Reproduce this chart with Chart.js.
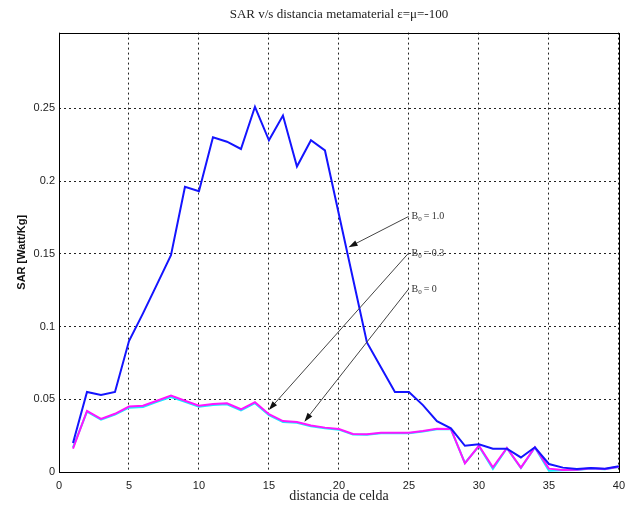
<!DOCTYPE html>
<html>
<head>
<meta charset="utf-8">
<script src="https://cdn.jsdelivr.net/npm/chart.js@4.4.0/dist/chart.umd.min.js"></script>
<style>
  html, body { margin: 0; padding: 0; background: #fff; }
</style>
</head>
<body>
<canvas id="sarChart" width="632" height="508"></canvas>
<script>
// Celdas (eje x)
const cells = [1, 2, 3, 4, 5, 6, 7, 8, 9, 10, 11, 12, 13, 14, 15, 16, 17, 18, 19, 20,
               21, 22, 23, 24, 25, 26, 27, 28, 29, 30, 31, 32, 33, 34, 35, 36, 37, 38, 39, 40];

// SAR para B0 = 1.0 (azul)
const sarB10 = [0.020, 0.055, 0.053, 0.055, 0.090, 0.109, 0.129, 0.149, 0.196, 0.193,
                0.230, 0.227, 0.222, 0.251, 0.228, 0.245, 0.210, 0.228, 0.221, 0.177,
                0.133, 0.089, 0.072, 0.055, 0.055, 0.046, 0.035, 0.030, 0.018, 0.019,
                0.016, 0.016, 0.010, 0.017, 0.0055, 0.003, 0.002, 0.0028, 0.0022, 0.004];

// SAR para B0 = 0.3 (cian)
const sarB03 = [0.017, 0.0415, 0.036, 0.0395, 0.0442, 0.0447, 0.0482, 0.0515, 0.0482, 0.0448,
                0.0461, 0.0465, 0.0424, 0.0473, 0.039, 0.0344, 0.0338, 0.0314, 0.030, 0.0291,
                0.0257, 0.0256, 0.0266, 0.0266, 0.0267, 0.0279, 0.0294, 0.0293, 0.0062, 0.0178,
                0.0022, 0.0163, 0.0027, 0.0168, 0.0008, 0.0012, 0.0014, 0.0024, 0.0019, 0.0035];

// SAR para B0 = 0 (magenta)
const sarB00 = [0.016, 0.042, 0.0365, 0.040, 0.045, 0.0455, 0.049, 0.0525, 0.049, 0.0456,
                0.0468, 0.0472, 0.0431, 0.048, 0.0397, 0.035, 0.0344, 0.032, 0.0305, 0.0296,
                0.0262, 0.026, 0.027, 0.027, 0.027, 0.0282, 0.0298, 0.0296, 0.006, 0.018,
                0.0032, 0.0165, 0.003, 0.017, 0.0023, 0.0014, 0.0015, 0.0025, 0.002, 0.0036];

const xTicks = [0, 5, 10, 15, 20, 25, 30, 35, 40];
const yTicks = [0, 0.05, 0.1, 0.15, 0.2, 0.25];

// Flechas de anotación (en coordenadas de datos: cola -> punta)
const arrowTexts = ['1.0', '0.3', '0'];
const arrowTails = [[24.97, 0.1756], [24.97, 0.1504], [24.97, 0.1257]];
const arrowHeads = [[20.69, 0.1545], [14.99, 0.0426], [17.53, 0.0346]];

function toPoints(values) {
    return cells.map((c, i) => ({ x: c, y: values[i] }));
}

// Caja completa alrededor del área del gráfico
const boxPlugin = {
    id: 'box',
    afterDatasetsDraw(chart) {
        const a = chart.chartArea;
        const ctx = chart.ctx;
        ctx.save();
        ctx.strokeStyle = '#000';
        ctx.lineWidth = 1;
        ctx.strokeRect(Math.round(a.left) + 0.5, Math.round(a.top) + 0.5,
                       Math.round(a.right - a.left), Math.round(a.bottom - a.top));
        ctx.restore();
    }
};

// Flechas con etiquetas B0
const arrowPlugin = {
    id: 'arrows',
    afterDatasetsDraw(chart) {
        const ctx = chart.ctx;
        const xs = chart.scales.x;
        const ys = chart.scales.y;
        ctx.save();
        arrowTexts.forEach((txt, i) => {
            const x0 = xs.getPixelForValue(arrowTails[i][0]);
            const y0 = ys.getPixelForValue(arrowTails[i][1]);
            const x1 = xs.getPixelForValue(arrowHeads[i][0]);
            const y1 = ys.getPixelForValue(arrowHeads[i][1]);
            const ang = Math.atan2(y1 - y0, x1 - x0);
            const len = 9, half = 3;

            ctx.strokeStyle = '#444';
            ctx.lineWidth = 1;
            ctx.beginPath();
            ctx.moveTo(x0, y0);
            ctx.lineTo(x1 - Math.cos(ang) * len * 0.8, y1 - Math.sin(ang) * len * 0.8);
            ctx.stroke();

            ctx.fillStyle = '#111';
            ctx.beginPath();
            ctx.moveTo(x1, y1);
            ctx.lineTo(x1 - Math.cos(ang) * len - Math.sin(ang) * half,
                       y1 - Math.sin(ang) * len + Math.cos(ang) * half);
            ctx.lineTo(x1 - Math.cos(ang) * len + Math.sin(ang) * half,
                       y1 - Math.sin(ang) * len - Math.cos(ang) * half);
            ctx.closePath();
            ctx.fill();

            // texto "B0 = ..."
            let tx = x0 + 3;
            ctx.fillStyle = '#333';
            ctx.textBaseline = 'middle';
            ctx.textAlign = 'left';
            ctx.font = '10px "Liberation Serif"';
            ctx.fillText('B', tx, y0);
            tx += ctx.measureText('B').width;
            ctx.font = '7px "Liberation Serif"';
            ctx.fillText('0', tx, y0 + 3);
            tx += ctx.measureText('0').width + 2;
            ctx.font = '10px "Liberation Serif"';
            ctx.fillText('= ' + txt, tx, y0);
        });
        ctx.restore();
    }
};

const tickFont = { family: '"Liberation Sans", Arial, sans-serif', size: 11 };

const ctx = document.getElementById('sarChart').getContext('2d');
const sarChart = new Chart(ctx, {
    type: 'line',
    data: {
        datasets: [
            { label: 'B0 = 1.0', data: toPoints(sarB10), borderColor: '#1414ff', borderWidth: 2 },
            { label: 'B0 = 0', data: toPoints(sarB00), borderColor: '#ff14ff', borderWidth: 2 },
            { label: 'B0 = 0.3', data: toPoints(sarB03), borderColor: '#14f0ff', borderWidth: 2 }
        ]
    },
    options: {
        responsive: false,
        animation: false,
        devicePixelRatio: 1,
        elements: {
            point: { radius: 0 },
            line: { tension: 0, fill: false }
        },
        layout: { padding: { left: 0, right: 12, top: 0, bottom: 0 } },
        plugins: {
            legend: { display: false },
            tooltip: { enabled: false },
            title: {
                display: true,
                fullSize: false,
                text: 'SAR v/s distancia metamaterial ε=μ=-100',
                color: '#222',
                font: { family: '"Liberation Serif", "Times New Roman", serif', size: 13, weight: 'normal' },
                padding: { top: 7, bottom: 10 }
            }
        },
        scales: {
            x: {
                type: 'linear',
                min: 0,
                max: 40,
                afterFit(scale) { scale.height = 36; },
                afterBuildTicks(scale) { scale.ticks = xTicks.map(v => ({ value: v })); },
                ticks: { padding: 7, maxRotation: 0, autoSkip: false, color: '#222', font: tickFont },
                grid: { color: '#222', lineWidth: 1, drawTicks: false },
                border: { display: false, dash: [2, 3] },
                title: {
                    display: true,
                    text: 'distancia de celda',
                    color: '#222',
                    font: { family: '"Liberation Serif", "Times New Roman", serif', size: 14 },
                    padding: { top: 0, bottom: 3 }
                }
            },
            y: {
                type: 'linear',
                min: 0,
                max: 0.302,
                afterFit(scale) { scale.width = 59; },
                afterBuildTicks(scale) { scale.ticks = yTicks.map(v => ({ value: v })); },
                ticks: {
                    padding: 4,
                    color: '#222',
                    font: tickFont,
                    callback: value => String(Number(value.toFixed(3)))
                },
                grid: { color: '#222', lineWidth: 1, drawTicks: false },
                border: { display: false, dash: [2, 3] },
                title: {
                    display: true,
                    text: 'SAR [Watt/Kg]',
                    color: '#111',
                    font: { family: '"Liberation Sans", Arial, sans-serif', size: 11, weight: 'bold' },
                    padding: { top: 15, bottom: 0 }
                }
            }
        }
    },
    plugins: [boxPlugin, arrowPlugin]
});
</script>
</body>
</html>
